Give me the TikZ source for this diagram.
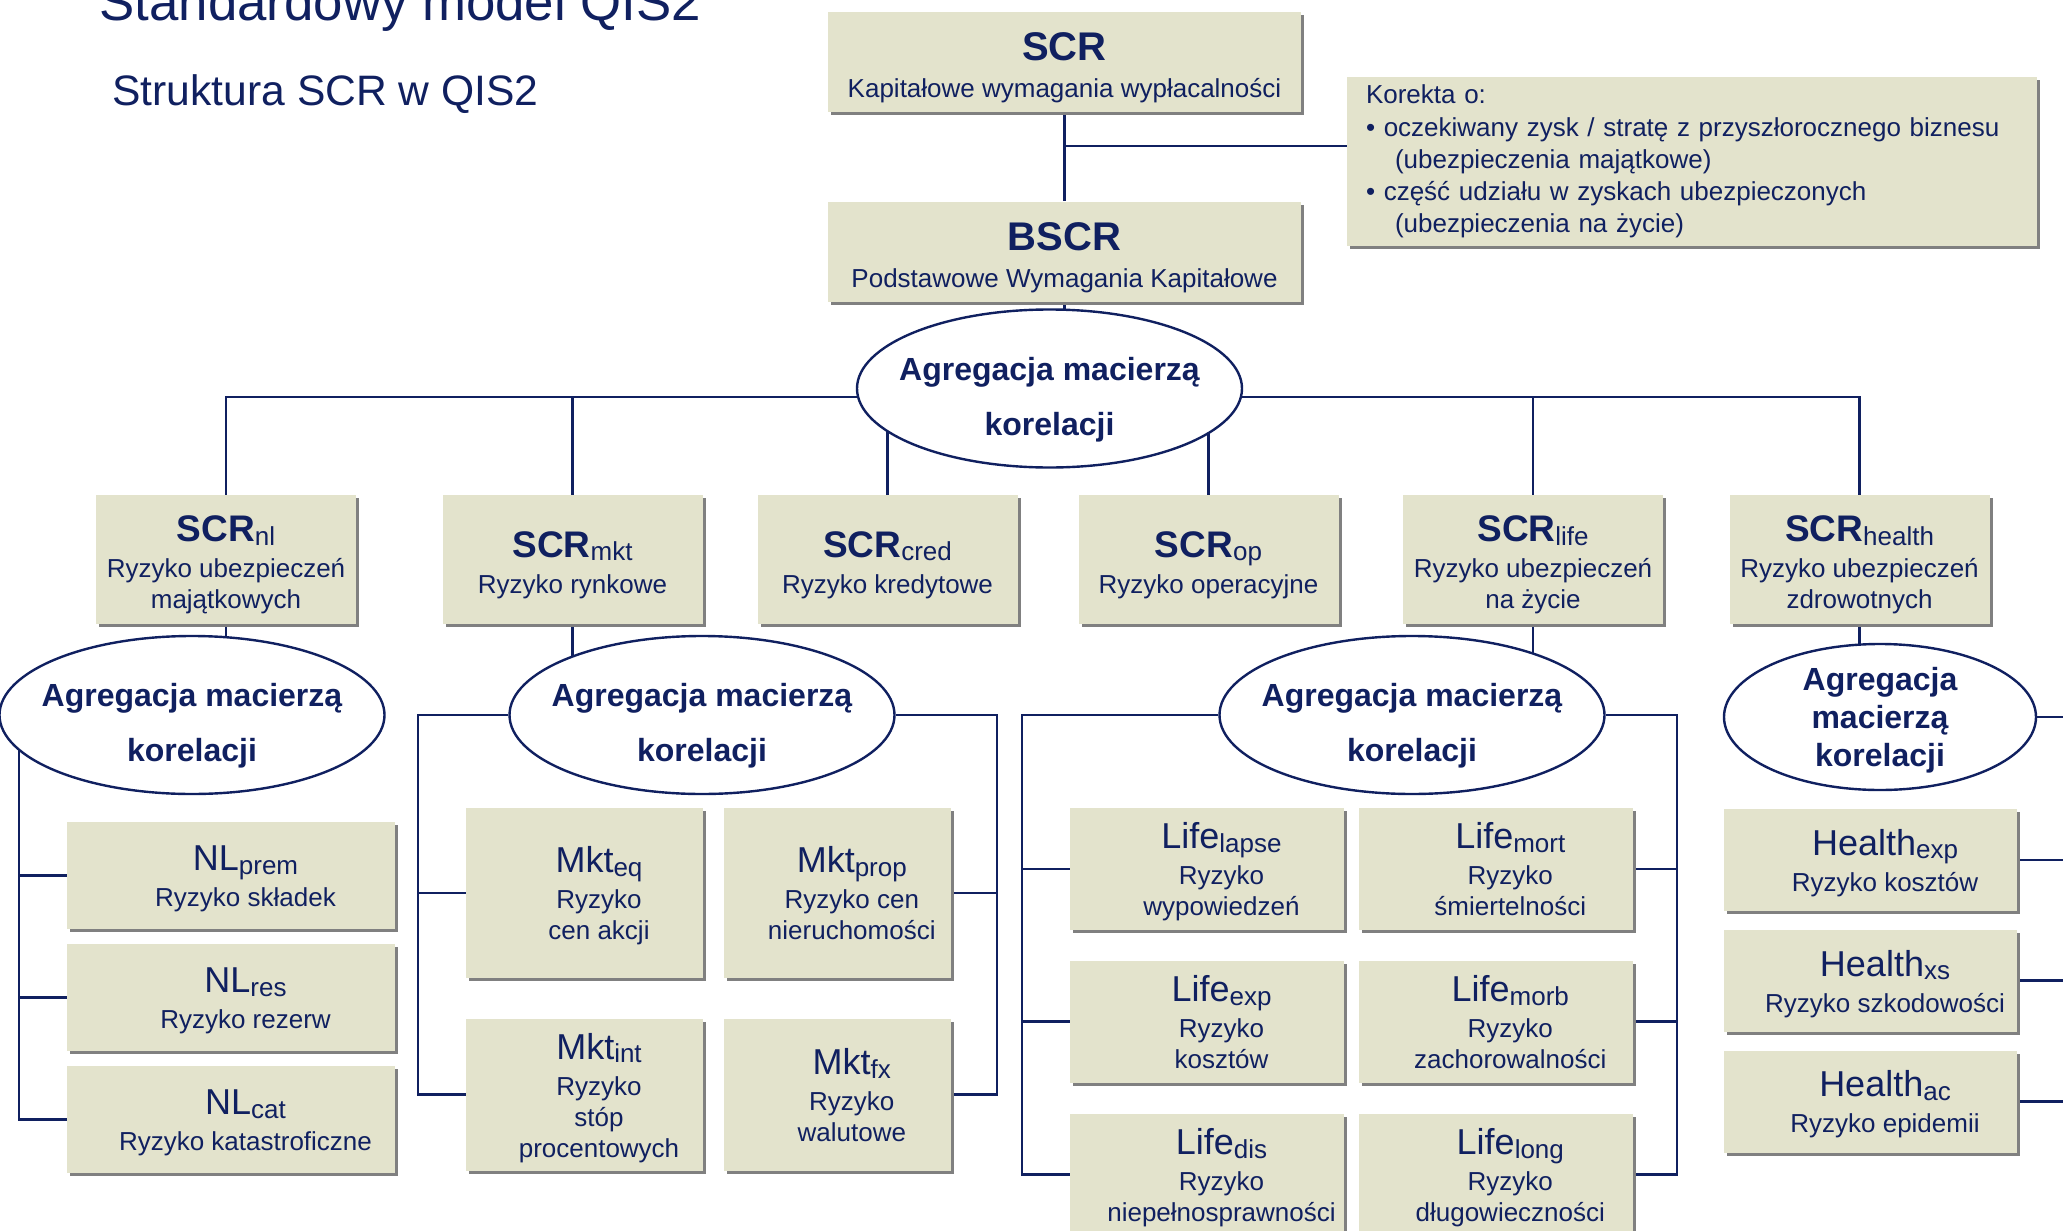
\documentclass[tikz,border=0pt]{standalone}
\usepackage{fontspec}
\setmainfont{Liberation Sans}
\usetikzlibrary{positioning,shapes.geometric,shadows,backgrounds}

\definecolor{navy}{RGB}{16,32,96}
\definecolor{boxfill}{RGB}{227,227,204}
\definecolor{shadegray}{RGB}{128,128,128}

\newcommand{\lowidx}[1]{\raisebox{-1.8pt}{\fontsize{13}{13}\selectfont\mdseries #1}}
\newcommand{\topname}[1]{\rule{0pt}{20.5pt}{\fontsize{20}{22}\selectfont\bfseries #1}}
\newcommand{\riskname}[2]{\rule{0pt}{18.5pt}{\fontsize{18.5}{20}\selectfont\bfseries #1}\lowidx{#2}}
\newcommand{\subname}[2]{\rule{0pt}{18pt}{\fontsize{18}{20}\selectfont #1}\lowidx{#2}}
\newcommand{\subtext}[1]{\hspace*{14.5pt}\begin{tabular}{@{}c@{}}#1\end{tabular}}

\begin{document}
\begin{tikzpicture}[
			x=0.5pt, y=-0.5pt,
			plainbox/.style={
				rectangle,
				fill=boxfill,
				text=navy,
				inner sep=2pt,
				drop shadow={shadow xshift=1.5pt, shadow yshift=-1.5pt, fill=shadegray, opacity=1},
				font=\fontsize{13}{15.5}\selectfont
			},
			basebox/.style={plainbox, align=center},
			topnode/.style={basebox, minimum width=236.5pt, minimum height=50pt},
			risknode/.style={basebox, minimum width=130pt, minimum height=64.5pt},
			nlnode/.style={plainbox, minimum width=164pt, minimum height=53.5pt},
			mktnode/.style={plainbox, minimum width=118.5pt, minimum height=85pt},
			lifenode/.style={plainbox, minimum width=137pt, minimum height=61pt},
			healthnode/.style={plainbox, minimum width=146.5pt, minimum height=51pt},
			aggshape/.style={
				ellipse,
				draw=navy,
				line width=1.2pt,
				fill=white,
				inner sep=0pt,
				minimum width=192.5pt,
				minimum height=79pt
			},
			aggtext/.style={text=navy, align=center, font=\fontsize{16}{27.5}\selectfont\bfseries},
			aggnode/.style={aggshape, label={[aggtext, yshift=-5.5pt]center:#1}},
			link/.style={draw=navy, line width=1.4pt}
			]
			\useasboundingbox (0,0) rectangle (2063,1231);

			\node[anchor=base west, inner sep=0pt, text=navy, font=\fontsize{26.4}{30}\selectfont] (title) at (99,20.7) {Standardowy model QIS2};
			\node[anchor=base west, inner sep=0pt, text=navy, font=\fontsize{21.3}{25}\selectfont] (subtitle) at (112,105) {Struktura SCR w QIS2};

			\node[topnode] (scr) at (1064.5,61.5) {\topname{SCR}\\[3pt] Kapitałowe wymagania wypłacalności};
			\node[topnode] (bscr) at (1064.5,251.5) {\topname{BSCR}\\[3pt] Podstawowe Wymagania Kapitałowe};
			\node[basebox, align=left, text width=326pt, inner xsep=9.5pt, minimum height=84.5pt, font=\fontsize{13}{16.1}\selectfont] (korekta) at (1692,161.5) {Korekta o:\\\textbullet\ oczekiwany zysk / stratę z przyszłorocznego biznesu\\\hspace*{14.5pt}(ubezpieczenia majątkowe)\\\textbullet\ część udziału w zyskach ubezpieczonych\\\hspace*{14.5pt}(ubezpieczenia na życie)};
			\node[aggnode={Agregacja macierzą\\korelacji}] (aggtop) at (1049.5,388.5) {};

			\node[risknode] (scrnl) at (226,559.5) {\riskname{SCR}{nl}\\[2.5pt] Ryzyko ubezpieczeń\\majątkowych};
			\node[risknode] (scrmkt) at (572.5,559.5) {\riskname{SCR}{mkt}\\[2.5pt] Ryzyko rynkowe};
			\node[risknode] (scrcred) at (887.5,559.5) {\riskname{SCR}{cred}\\[2.5pt] Ryzyko kredytowe};
			\node[risknode] (scrop) at (1208.5,559.5) {\riskname{SCR}{op}\\[2.5pt] Ryzyko operacyjne};
			\node[risknode] (scrlife) at (1533,559.5) {\riskname{SCR}{life}\\[2.5pt] Ryzyko ubezpieczeń\\na życie};
			\node[risknode] (scrhealth) at (1859.5,559.5) {\riskname{SCR}{health}\\[2.5pt] Ryzyko ubezpieczeń\\zdrowotnych};

			\node[aggnode={Agregacja macierzą\\korelacji}] (aggnl) at (192,715) {};
			\node[aggnode={Agregacja macierzą\\korelacji}] (aggmkt) at (702,715) {};
			\node[aggnode={Agregacja macierzą\\korelacji}] (agglife) at (1412,715) {};
			\node[aggshape, minimum width=156pt, minimum height=73pt, label={[aggtext, font=\fontsize{16}{19}\selectfont\bfseries, yshift=-1.7pt]center:Agregacja\\macierzą\\korelacji}] (agghealth) at (1880,717) {};

			\node[nlnode] (nlprem) at (231,875.5) {\subtext{\subname{NL}{prem}\\[2.5pt] Ryzyko składek}};
			\node[nlnode, below=7pt of nlprem] (nlres) {\subtext{\subname{NL}{res}\\[2.5pt] Ryzyko rezerw}};
			\node[nlnode, below=7pt of nlres] (nlcat) {\subtext{\subname{NL}{cat}\\[2.5pt] Ryzyko katastroficzne}};

			\node[mktnode] (mkteq) at (584.5,893) {\subtext{\subname{Mkt}{eq}\\[2.5pt] Ryzyko\\cen akcji}};
			\node[mktnode, minimum width=113.5pt, right=10pt of mkteq] (mktprop) {\subtext{\subname{Mkt}{prop}\\[2.5pt] Ryzyko cen\\nieruchomości}};
			\node[mktnode, minimum height=76pt, below=20pt of mkteq] (mktint) {\subtext{\subname{Mkt}{int}\\[2.5pt] Ryzyko\\stóp\\procentowych}};
			\node[mktnode, minimum width=113.5pt, minimum height=76pt, below=20pt of mktprop] (mktfx) {\subtext{\subname{Mkt}{fx}\\[2.5pt] Ryzyko\\walutowe}};

			\node[lifenode] (lifelapse) at (1207,869) {\subtext{\subname{Life}{lapse}\\[2.5pt] Ryzyko\\wypowiedzeń}};
			\node[lifenode, right=7pt of lifelapse] (lifemort) {\subtext{\subname{Life}{mort}\\[2.5pt] Ryzyko\\śmiertelności}};
			\node[lifenode, below=15pt of lifelapse] (lifeexp) {\subtext{\subname{Life}{exp}\\[2.5pt] Ryzyko\\kosztów}};
			\node[lifenode, below=15pt of lifemort] (lifemorb) {\subtext{\subname{Life}{morb}\\[2.5pt] Ryzyko\\zachorowalności}};
			\node[lifenode, below=15pt of lifeexp] (lifedis) {\subtext{\subname{Life}{dis}\\[2.5pt] Ryzyko\\niepełnosprawności}};
			\node[lifenode, below=15pt of lifemorb] (lifelong) {\subtext{\subname{Life}{long}\\[2.5pt] Ryzyko\\długowieczności}};

			\node[healthnode] (healthexp) at (1870.5,860) {\subtext{\subname{Health}{exp}\\[2.5pt] Ryzyko kosztów}};
			\node[healthnode, below=9pt of healthexp] (healthxs) {\subtext{\subname{Health}{xs}\\[2.5pt] Ryzyko szkodowości}};
			\node[healthnode, below=9pt of healthxs] (healthac) {\subtext{\subname{Health}{ac}\\[2.5pt] Ryzyko epidemii}};

			\coordinate (kjoin) at (1064.5,146);
			\coordinate (bus) at (1049.5,397);
			\coordinate (nlbar) at (19,0);
			\coordinate (mktl) at (418,0);
			\coordinate (mktr) at (997,0);
			\coordinate (lifel) at (1022,0);
			\coordinate (lifer) at (1677,0);
			\coordinate (hbar) at (2090,0);

			\begin{pgfonlayer}{background}
			\draw[link] (scr) -- (bscr);
			\draw[link] (kjoin) -- (kjoin -| korekta.west);
			\draw[link] (bscr) -- (bscr |- aggtop);
			\draw[link] (scrnl) -- (scrnl |- bus) -- (scrhealth |- bus) -- (scrhealth);
			\foreach \n in {scrmkt,scrcred,scrop,scrlife}
				\draw[link] (\n) -- (\n |- bus);

			\draw[link] (scrnl) -- (scrnl |- aggnl);
			\draw[link] (scrmkt) -- (scrmkt |- aggmkt);
			\draw[link] (scrlife) -- (scrlife |- agglife);
			\draw[link] (scrhealth) -- (scrhealth |- agghealth);

			\draw[link] (aggnl -| nlbar) -- (nlbar |- nlcat) -- (nlcat);
			\foreach \n in {nlprem,nlres}
				\draw[link] (nlbar |- \n) -- (\n);

			\draw[link] (aggmkt) -| (mktl |- mktint) -- (mktint);
			\draw[link] (mktl |- mkteq) -- (mkteq);
			\draw[link] (aggmkt) -| (mktr |- mktfx) -- (mktfx);
			\draw[link] (mktr |- mktprop) -- (mktprop);

			\draw[link] (agglife) -| (lifel |- lifedis) -- (lifedis);
			\foreach \n in {lifelapse,lifeexp}
				\draw[link] (lifel |- \n) -- (\n);
			\draw[link] (agglife) -| (lifer |- lifelong) -- (lifelong);
			\foreach \n in {lifemort,lifemorb}
				\draw[link] (lifer |- \n) -- (\n);

			\draw[link] (agghealth) -| (hbar |- healthac) -- (healthac);
			\foreach \n in {healthexp,healthxs}
				\draw[link] (hbar |- \n) -- (\n);
			\end{pgfonlayer}
		\end{tikzpicture}
\end{document}
